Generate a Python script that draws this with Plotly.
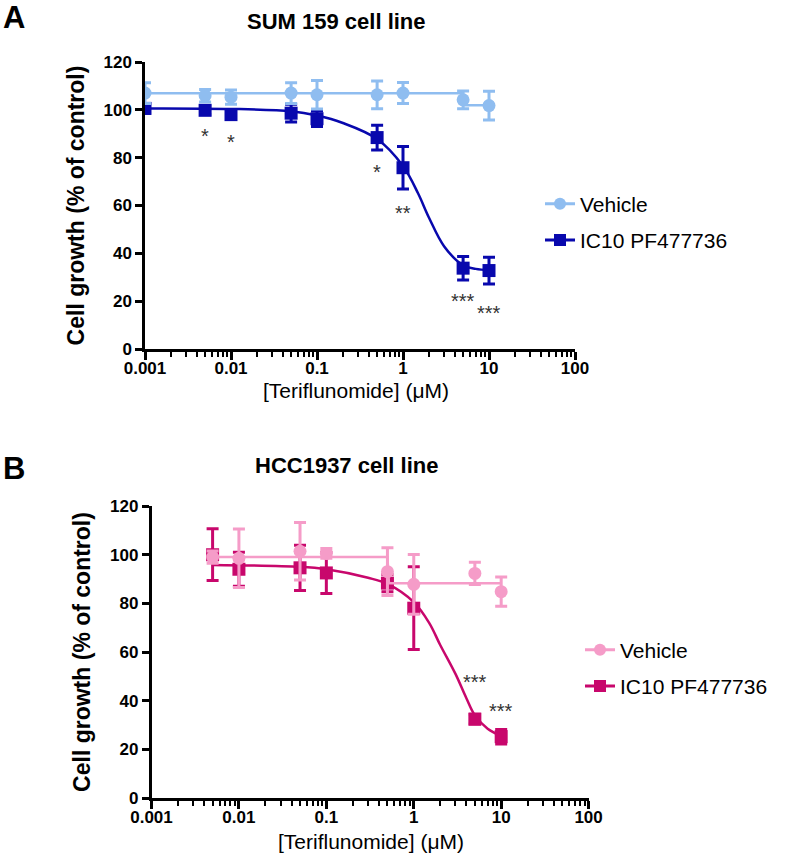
import math
import plotly.graph_objects as go

# ---- data: panel A, SUM 159 cell line ----
conc_a = [0.001, 0.005, 0.01, 0.05, 0.1, 0.5, 1, 5, 10]
veh_a = [107, 105.9, 105.3, 107, 106.3, 106.3, 107, 104.2, 101.8]
veh_a_err = [4.3, 2.6, 3, 4.3, 6, 5.8, 4.4, 3.7, 6]
ic10_a = [100.6, 99.8, 98, 98.6, 96.3, 88.4, 75.8, 33.8, 32.8]
ic10_a_err = [2, 1.8, 1.8, 3.7, 3.3, 5.2, 8.9, 4.9, 5.6]
# fitted curves
fit_a_x = [0.001, 0.01, 0.05, 0.1, 0.2, 0.5, 1, 1.5, 2, 3, 5, 7, 10]
fit_a_y = [100.6, 100.4, 99.4, 97.6, 94.5, 87.8, 76.5, 65, 55, 43, 35, 33.5, 33]
vfit_a_x = [0.001, 4.8, 5.2, 10]
vfit_a_y = [106.9, 106.9, 101.9, 101.9]
stars_a_x = [0.005, 0.01, 0.5, 1, 5, 10]
stars_a_y = [90.9, 88.1, 75.6, 58.4, 21.9, 16.6]
stars_a_txt = ["*", "*", "*", "**", "***", "***"]

# ---- data: panel B, HCC1937 cell line ----
conc_b = [0.005, 0.01, 0.05, 0.1, 0.5, 1, 5, 10]
veh_b = [99, 98.5, 101.4, 100.5, 93, 87.8, 92.3, 84.8]
veh_b_err = [2.5, 12, 11.8, 2, 9.8, 12.3, 4.6, 6]
ic10_b = [100, 94, 94.6, 92.5, 88.3, 78, 32.4, 25.2]
ic10_b_err = [10.6, 7, 9.3, 8.5, 3.5, 17, 2, 3]
fit_b_x = [0.005, 0.05, 0.1, 0.3, 0.5, 1, 1.5, 2, 3, 4, 5, 7, 10]
fit_b_y = [95.8, 95, 94, 90.5, 88, 80.5, 72, 63, 51, 41, 34, 28.5, 25.5]
vfit_b_x = [0.005, 0.5, 0.52, 10]
vfit_b_y = [99, 99, 88.3, 88.3]
stars_b_x = [5, 10]
stars_b_y = [48.8, 36.9]
stars_b_txt = ["***", "***"]

FONT = "Liberation Sans, Arial, sans-serif"
LBLUE = "#8fbdf0"
DBLUE = "#0808ad"
LPINK = "#f59cc8"
DPINK = "#c8076c"

W, H = 788, 867

def px(x):
    return x / W

def py(y):
    return 1 - y / H

fig = go.Figure()

def add_panel(fig, xa, ya, leg, conc, veh, veh_err, ic, ic_err, fx, fy, vx, vy, c_light, c_dark):
    # IC10 curve + points
    fig.add_trace(go.Scatter(x=fx, y=fy, mode="lines", line=dict(color=c_dark, width=2.5, shape="spline"),
                             xaxis=xa, yaxis=ya, showlegend=False, hoverinfo="skip"))
    fig.add_trace(go.Scatter(x=conc, y=ic, mode="markers", marker=dict(symbol="square", size=13, color=c_dark),
                             error_y=dict(type="data", array=ic_err, color=c_dark, thickness=3, width=6),
                             xaxis=xa, yaxis=ya, showlegend=False))
    # Vehicle curve + points
    fig.add_trace(go.Scatter(x=vx, y=vy, mode="lines", line=dict(color=c_light, width=2.5),
                             xaxis=xa, yaxis=ya, showlegend=False, hoverinfo="skip"))
    fig.add_trace(go.Scatter(x=conc, y=veh, mode="markers", marker=dict(symbol="circle", size=13, color=c_light),
                             error_y=dict(type="data", array=veh_err, color=c_light, thickness=3, width=6),
                             xaxis=xa, yaxis=ya, showlegend=False))
    # legend-only entries
    fig.add_trace(go.Scatter(x=[None], y=[None], mode="lines+markers", name="Vehicle",
                             line=dict(color=c_light, width=3), marker=dict(symbol="circle", size=12, color=c_light),
                             xaxis=xa, yaxis=ya, legend=leg, legendgroup=leg + "v"))
    fig.add_trace(go.Scatter(x=[None], y=[None], mode="lines+markers", name="IC10 PF477736",
                             line=dict(color=c_dark, width=3), marker=dict(symbol="square", size=12, color=c_dark),
                             xaxis=xa, yaxis=ya, legend=leg, legendgroup=leg + "i"))

add_panel(fig, "x", "y", "legend", conc_a, veh_a, veh_a_err, ic10_a, ic10_a_err,
          fit_a_x, fit_a_y, vfit_a_x, vfit_a_y, LBLUE, DBLUE)
add_panel(fig, "x2", "y2", "legend2", conc_b, veh_b, veh_b_err, ic10_b, ic10_b_err,
          fit_b_x, fit_b_y, vfit_b_x, vfit_b_y, LPINK, DPINK)

# significance stars (annotation x on a log axis is given in log10 units)
star_font = dict(family=FONT, size=20, color="#333333")
annotations = []
for sx, sy, st in zip(stars_a_x, stars_a_y, stars_a_txt):
    annotations.append(dict(x=math.log10(sx), y=sy, xref="x", yref="y", text=st, showarrow=False,
                            font=star_font, yshift=-4))
for sx, sy, st in zip(stars_b_x, stars_b_y, stars_b_txt):
    annotations.append(dict(x=math.log10(sx), y=sy, xref="x2", yref="y2", text=st, showarrow=False,
                            font=star_font, yshift=-3))

xtitle_font = dict(family=FONT, size=21, color="black")
annotations += [
    dict(x=px(1), y=py(17), xref="paper", yref="paper", text="<b>A</b>", showarrow=False,
         xanchor="left", yanchor="middle", font=dict(family=FONT, size=31, color="black")),
    dict(x=px(1), y=py(468), xref="paper", yref="paper", text="<b>B</b>", showarrow=False,
         xanchor="left", yanchor="middle", font=dict(family=FONT, size=31, color="black")),
    dict(x=px(336), y=py(22), xref="paper", yref="paper", text="<b>SUM 159 cell line</b>", showarrow=False,
         xanchor="center", yanchor="middle", font=dict(family=FONT, size=22, color="black")),
    dict(x=px(346), y=py(466), xref="paper", yref="paper", text="<b>HCC1937 cell line</b>", showarrow=False,
         xanchor="center", yanchor="middle", font=dict(family=FONT, size=22, color="black")),
    dict(x=px(356), y=py(390), xref="paper", yref="paper", text="[Teriflunomide] (μM)", showarrow=False,
         xanchor="center", yanchor="middle", font=xtitle_font),
    dict(x=px(371), y=py(841), xref="paper", yref="paper", text="[Teriflunomide] (μM)", showarrow=False,
         xanchor="center", yanchor="middle", font=xtitle_font),
]

def xaxis_style(domain, anchor):
    return dict(domain=domain, anchor=anchor, type="log", range=[-3, 2], automargin=False,
                tickvals=[0.001, 0.01, 0.1, 1, 10, 100], ticktext=["0.001", "0.01", "0.1", "1", "10", "100"],
                ticks="outside", ticklen=8, tickwidth=2.5, tickcolor="black", ticklabelstandoff=-6,
                minor=dict(ticks="outside", ticklen=5, tickwidth=2, tickcolor="black", dtick="D1", showgrid=False),
                showline=True, linewidth=2.5, linecolor="black", showgrid=False, zeroline=False,
                tickfont=dict(family=FONT, size=17, color="black", weight="bold"))

def yaxis_style(domain, anchor):
    return dict(domain=domain, anchor=anchor, range=[0, 120], tickvals=[0, 20, 40, 60, 80, 100, 120],
                automargin=False,
                ticks="outside", ticklen=7, tickwidth=2.5, tickcolor="black",
                showline=True, linewidth=2.5, linecolor="black", showgrid=False, zeroline=False,
                tickfont=dict(family=FONT, size=17, color="black", weight="bold"),
                title=dict(text="<b>Cell growth (% of control)</b>", font=dict(family=FONT, size=23, color="black"),
                           standoff=13))

legend_font = dict(family=FONT, size=21, color="black")
fig.update_layout(
    width=W, height=H, plot_bgcolor="white", paper_bgcolor="white",
    margin=dict(l=0, r=0, t=0, b=0, autoexpand=False),
    xaxis=xaxis_style([px(145), px(575)], "y"),
    yaxis=yaxis_style([py(349), py(62)], "x"),
    xaxis2=xaxis_style([px(151.5), px(588.6)], "y2"),
    yaxis2=yaxis_style([py(798), py(506)], "x2"),
    legend=dict(x=px(540), y=py(222), xanchor="left", yanchor="middle", font=legend_font,
                tracegroupgap=6, bgcolor="rgba(0,0,0,0)"),
    legend2=dict(x=px(580), y=py(668), xanchor="left", yanchor="middle", font=legend_font,
                 tracegroupgap=6, bgcolor="rgba(0,0,0,0)"),
    annotations=annotations,
    showlegend=True,
)

# drop the browser's default 8px body margin so the figure fills the window
fig.write_html("out.html", config={"displayModeBar": False},
               post_script="document.body.style.margin='0px';")
